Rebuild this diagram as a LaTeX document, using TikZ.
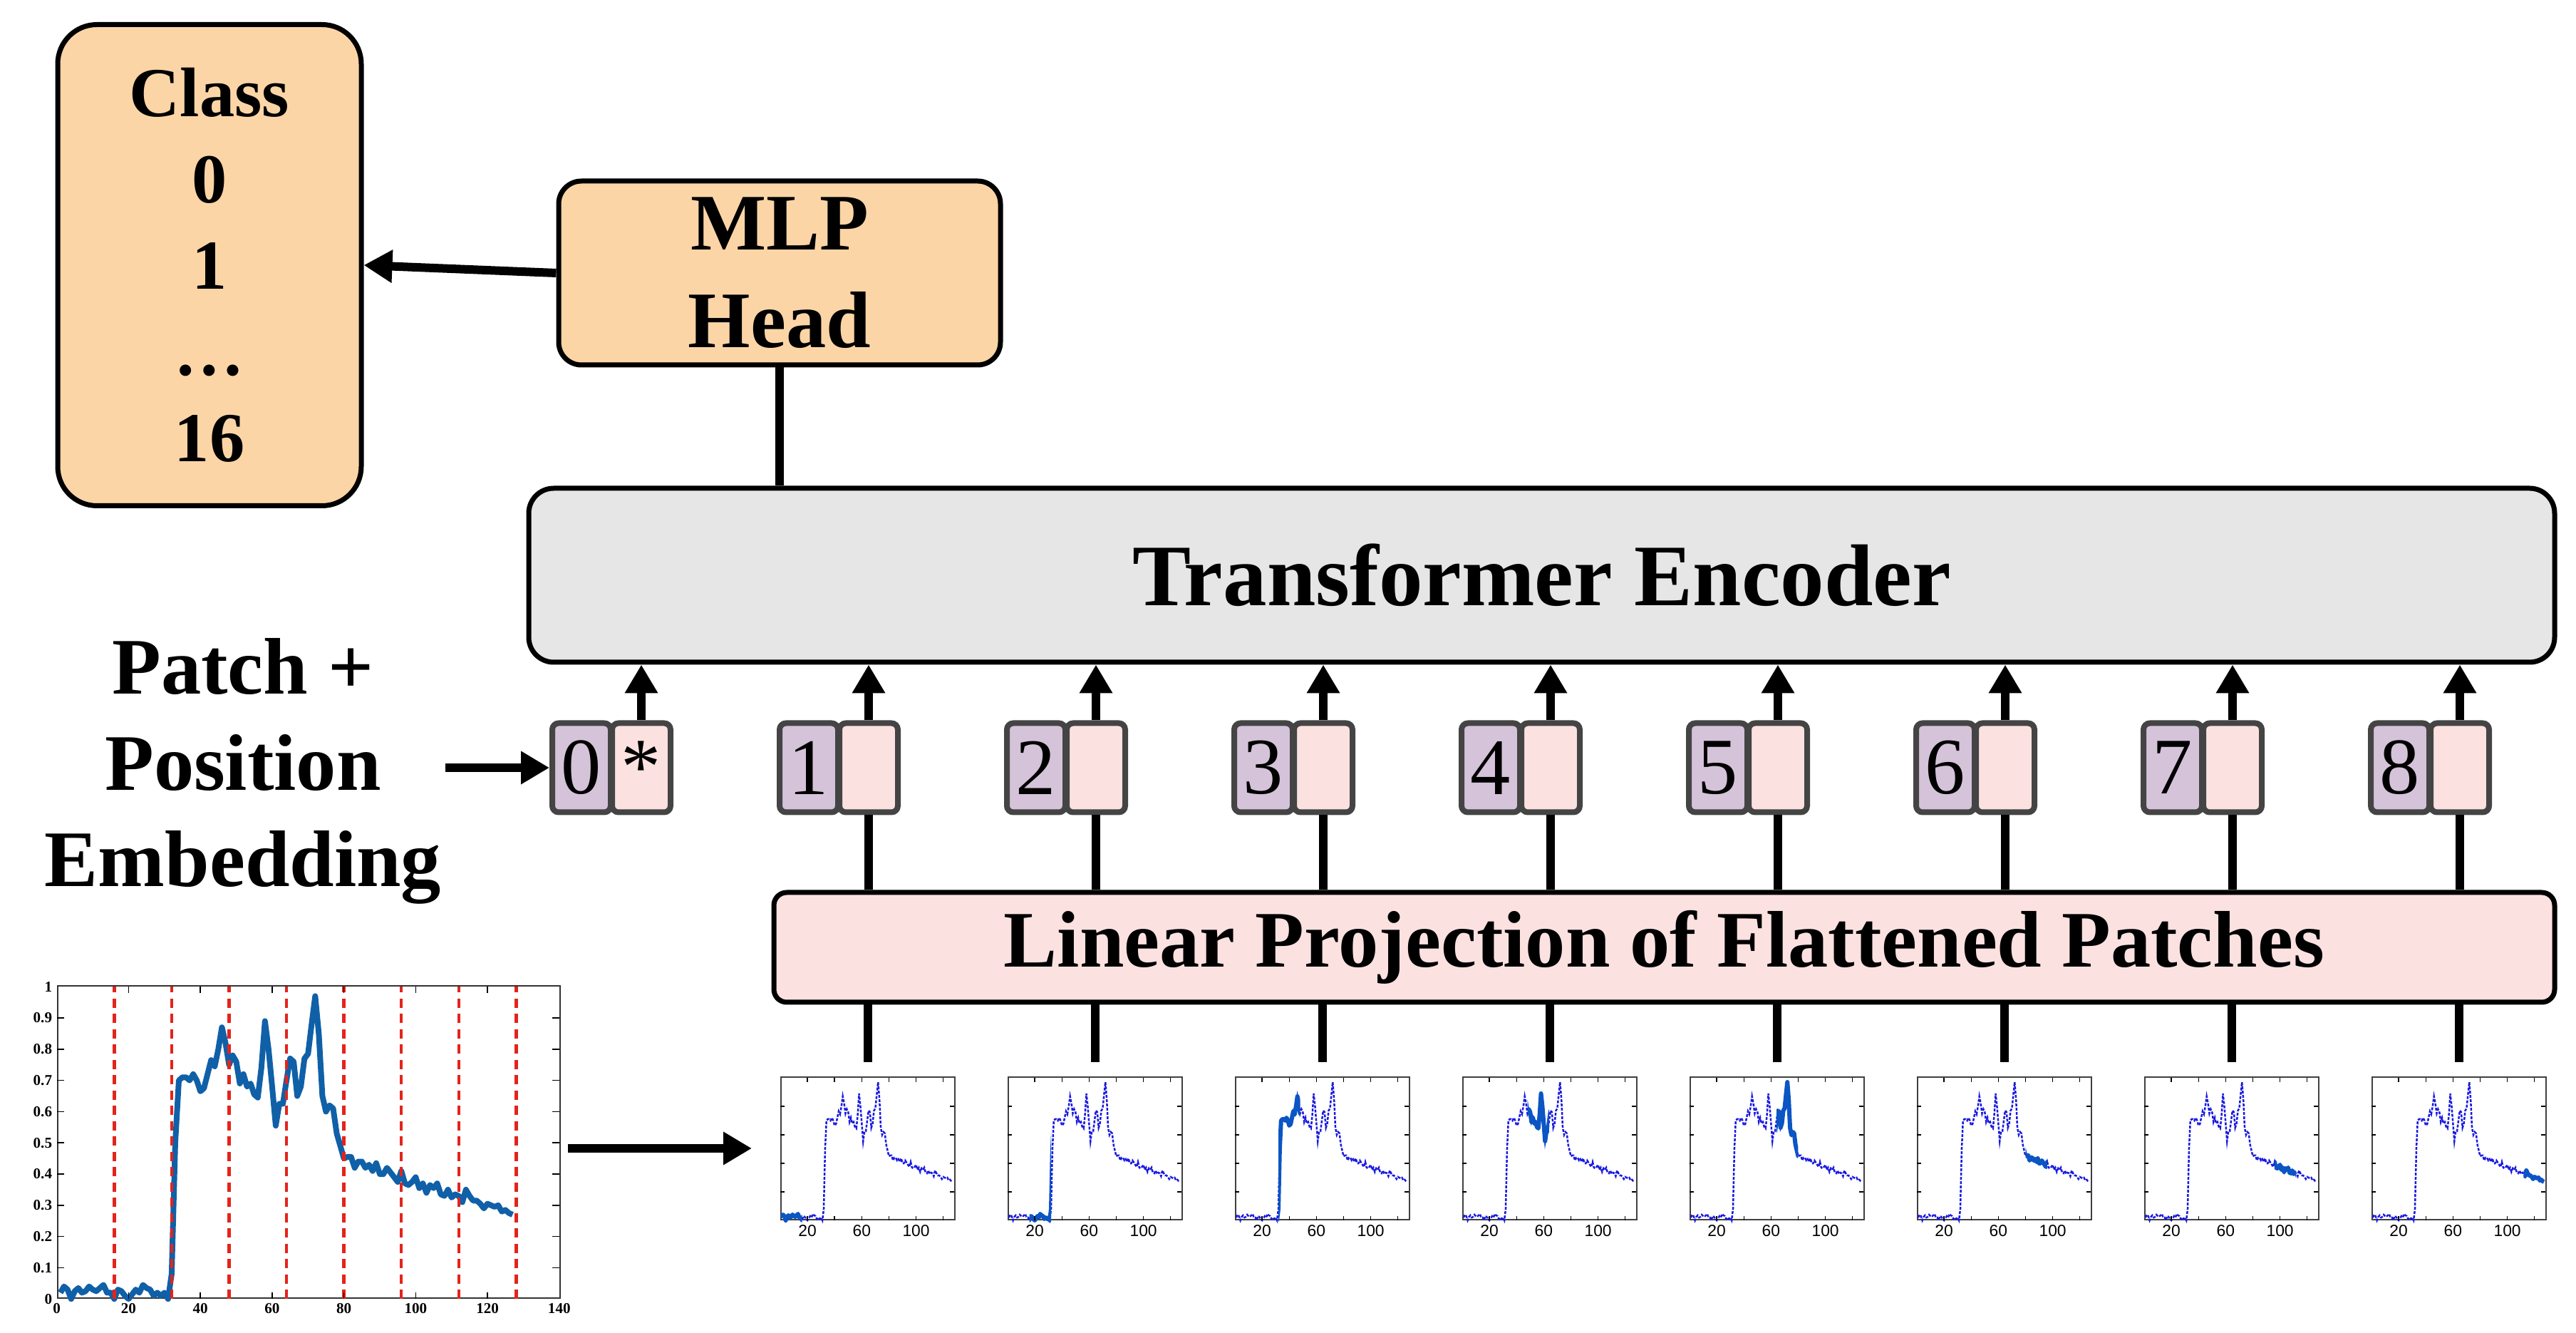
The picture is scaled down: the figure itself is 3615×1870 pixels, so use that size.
\documentclass[tikz,border=0pt]{standalone}
\usepackage{fontspec}
\setmainfont{Liberation Serif}
\setsansfont{Liberation Sans}
\usetikzlibrary{arrows.meta,positioning}

\definecolor{vtpessego}{HTML}{FCD5A7}
\definecolor{vtcinza}{HTML}{E6E6E6}
\definecolor{vtrosa}{HTML}{FCE1E1}
\definecolor{vtlilas}{HTML}{D5C3DA}
\definecolor{vtborda}{HTML}{444444}
\definecolor{vtazul}{HTML}{1060A8}
\definecolor{vtanil}{HTML}{1A1AE0}
\definecolor{vtdestaque}{HTML}{0B55C4}
\definecolor{vtvermelho}{HTML}{E3241B}

\newcommand\espectro{plot coordinates {(1,.02) (2,.04) (3,.03) (4,.0) (5,.025) (6,.035) (7,.02) (8,.025) (9,.04) (10,.03) (11,.025) (12,.035) (13,.045) (14,.02) (15,.02) (16,.0) (17,.03) (18,.025) (19,.01) (20,.0) (21,.015) (22,.03) (23,.02) (24,.045) (25,.035) (26,.03) (27,.01) (28,.02) (29,.01) (30,.02) (31,.0) (32,.08) (33,.5) (34,.70) (35,.71) (36,.71) (37,.70) (38,.72) (39,.70) (40,.665) (41,.675) (42,.72) (43,.765) (44,.745) (45,.80) (46,.87) (47,.82) (48,.75) (49,.78) (50,.76) (51,.69) (52,.72) (53,.68) (54,.69) (55,.655) (56,.645) (57,.74) (58,.89) (59,.80) (60,.68) (61,.555) (62,.625) (63,.625) (64,.70) (65,.77) (66,.76) (67,.65) (68,.68) (69,.77) (70,.785) (71,.88) (72,.97) (73,.85) (74,.65) (75,.60) (76,.62) (77,.61) (78,.53) (79,.49) (80,.45) (81,.455) (82,.455) (83,.42) (84,.44) (85,.44) (86,.42) (87,.43) (88,.41) (89,.435) (90,.40) (91,.40) (92,.42) (93,.405) (94,.39) (95,.375) (96,.41) (97,.37) (98,.365) (99,.375) (100,.39) (101,.355) (102,.37) (103,.34) (104,.365) (105,.355) (106,.37) (107,.335) (108,.33) (109,.35) (110,.325) (111,.335) (112,.33) (113,.31) (114,.35) (115,.33) (116,.315) (117,.315) (118,.305) (119,.29) (120,.305) (121,.30) (122,.295) (123,.30) (124,.28) (125,.285) (126,.275) (127,.27)}}

\tikzset{
  caixa/.style={draw=black,line width=0.7mm,align=center,inner sep=0pt,font=\bfseries\fontsize{32}{39}\selectfont},
  seta/.style={line width=1.2mm,-{Triangle[length=4mm,width=4.4mm]}},
  haste/.style={line width=1.2mm},
  ficha/.style={draw=vtborda,line width=0.8mm,rounded corners=0.9mm,minimum width=8.2mm,minimum height=12.5mm,inner sep=0pt,font=\fontsize{32}{32}\selectfont},
  miniatura/.style={draw=black!75,line width=0.2mm,minimum width=24.4mm,minimum height=20mm,inner sep=0pt},
  marca/.style={line width=0.15mm},
  corte/.style={vtvermelho,line width=0.45mm,dash pattern=on 1.3mm off 0.85mm},
  rotulo/.style={font=\bfseries\fontsize{6}{6}\selectfont,inner sep=0.6mm},
  rotulosf/.style={font=\sffamily\fontsize{6.5}{6.5}\selectfont,inner sep=0.6mm},
}

\begin{document}
\begin{tikzpicture}[x=0.1mm,y=-0.1mm]
  \useasboundingbox (0,0) rectangle (3615,1870);
  % saida e cabeca
  \node[caixa,fill=vtpessego,rounded corners=5.5mm,minimum width=42.6mm,minimum height=67.5mm,font=\bfseries\fontsize{28}{34.4}\selectfont] (classe) at (294,372) {Class\\0\\1\\…\\16};
  \node[caixa,fill=vtpessego,rounded corners=3.2mm,minimum width=62mm,minimum height=25.8mm] (mlp) at (1094,383) {MLP\\Head};
  \node[caixa,fill=vtcinza,rounded corners=3.5mm,minimum width=284.3mm,minimum height=24.4mm,font=\bfseries\fontsize{35}{35}\selectfont] (enc) at (2163.5,807) {Transformer Encoder};
  \node[caixa,fill=vtrosa,rounded corners=1.8mm,minimum width=249.9mm,minimum height=15.4mm] (lin) at (2335.5,1329) {Linear Projection of Flattened Patches};
  \node[align=center,inner sep=0.5mm,font=\bfseries\fontsize{32}{38.5}\selectfont] (patch) at (341,1082) {Patch +\\Position\\Embedding};
  % fichas (posicao + patch)
  \foreach \i in {0,...,8} {
    \node[ficha,fill=vtlilas] (pos\i) at ({816+319*\i},1077) {\i};
    \node[ficha,fill=vtrosa] (emb\i) at ({900+319*\i},1077) {\ifnum\i=0 *\fi};}
  % espectro completo
  \node[draw=black!80,line width=0.25mm,minimum width=70.5mm,minimum height=43.8mm,inner sep=0pt] (spec) at (433.5,1602) {};
  \begin{scope}[shift={(spec.south west)},x=0.5036mm,y=43.8mm]
    \draw[vtazul,line width=0.8mm,line join=round] \espectro;
    \foreach \d in {16,32,...,128} \draw[corte] (\d,0) -- (\d,1);
    \foreach \t in {20,40,...,120} {\draw[marca] (\t,0) -- ++(0,0.02); \draw[marca] (\t,1) -- ++(0,-0.02);}
    \foreach \t in {1,...,9} {\draw[marca] (0,\t/10) -- ++(2,0); \draw[marca] (140,\t/10) -- ++(-2,0);}
    \foreach \t in {0,20,...,140} \node[rotulo,below] at (\t,0) {\t};
    \foreach \t in {1,...,9} \node[rotulo,left] at (0,\t/10) {0.\t};
    \node[rotulo,left] at (0,0) {0};
    \node[rotulo,left] at (0,1) {1};
  \end{scope}
  % miniaturas
  \foreach \i in {1,...,8} {
    \node[miniatura] (th\i) at ({1218+319*(\i-1)},1611) {};
    \begin{scope}[shift={(th\i.south west)},x=0.1906mm,y=20mm]
      \draw[vtanil,line width=0.25mm,dash pattern=on 0.4mm off 0.2mm] \espectro;
      \begin{scope}
        \clip ({16*(\i-1)},-0.1) rectangle ({16*\i},1.1);
        \draw[vtdestaque,line width=0.6mm,line join=round] \espectro;
      \end{scope}
      \foreach \t in {20,40,...,120} {\draw[marca] (\t,0) -- ++(0,0.03); \draw[marca] (\t,1) -- ++(0,-0.03);}
      \foreach \t in {2,4,6,8} {\draw[marca] (0,\t/10) -- ++(3,0); \draw[marca] (128,\t/10) -- ++(-3,0);}
      \foreach \t in {20,60,100} \node[rotulosf,below] at (\t,0) {\t};
    \end{scope}}
  % ligacoes
  \draw[seta] (mlp.west) -- (classe.east);
  \draw[haste] (mlp.south) -- (enc.north -| mlp.south);
  \draw[seta] (patch.east |- pos0.west) -- (pos0.west);
  \draw[seta] ([xshift=1mm]spec.east |- th1.west) -- ([xshift=-4mm]th1.west);
  \foreach \i in {0,...,8} \draw[seta] (emb\i.north) -- (enc.south -| emb\i.north);
  \foreach \i in {1,...,8} {
    \draw[haste] (lin.north -| emb\i.south) -- (emb\i.south);
    \draw[haste] ([yshift=2mm]th\i.north) -- (lin.south -| th\i.north);}
\end{tikzpicture}
\end{document}
